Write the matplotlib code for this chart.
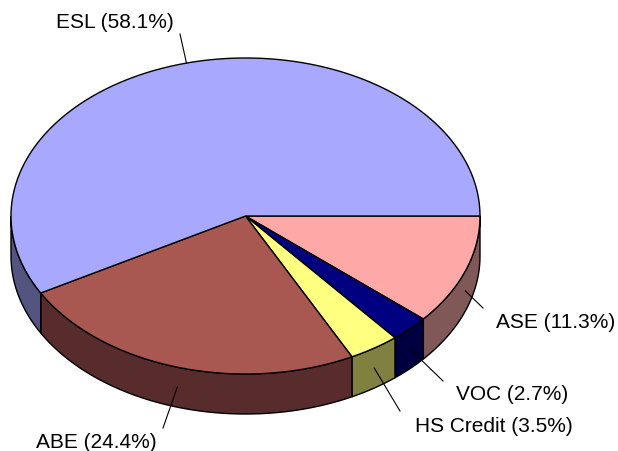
import numpy as np
import matplotlib
matplotlib.use('Agg')
import matplotlib.pyplot as plt

labels = ['ASE', 'VOC', 'HS Credit', 'ABE', 'ESL']
shares = [11.3, 2.7, 3.5, 24.4, 58.1]
top_colors = ['#FFA8A8', '#000080', '#FFFF80', '#A85850', '#A8A8FF']
side_colors = ['#805858', '#000040', '#808040', '#582C2C', '#545480']

# pie geometry, in picture pixels
cx, cy = 245.5, 216
rx, ry = 234.5, 158
depth = 40

# label text anchor and leader end
label_pos = [(496, 322), (456, 394), (415, 426), (36, 443), (56, 22)]
leader_out = [(483, 308), (443, 381), (400, 411), (163, 428), (180, 34)]

plt.rcParams['font.family'] = ['Liberation Sans', 'DejaVu Sans']

fig = plt.figure(figsize=(6.18, 4.51), dpi=100)
ax = fig.add_axes([0, 0, 1, 1])
ax.set_xlim(0, 618)
ax.set_ylim(451, 0)
ax.axis('off')


def arc(a, b):
    t = np.radians(np.linspace(a, b, max(int(abs(b - a)) * 2, 2) + 1))
    return cx + rx * np.cos(t), cy + ry * np.sin(t)


edges = np.concatenate([[0], np.cumsum(shares) / np.sum(shares) * 360])

# side walls, only the front half of the rim shows
for i in range(len(shares)):
    a, b = edges[i], min(edges[i + 1], 180)
    if a >= 180:
        continue
    x, y = arc(a, b)
    ax.fill(np.r_[x, x[::-1]], np.r_[y, y[::-1] + depth],
            fc=side_colors[i], ec='black', lw=1.0, zorder=2)

for i in range(len(shares)):
    x, y = arc(edges[i], edges[i + 1])
    ax.fill(np.r_[cx, x], np.r_[cy, y], fc=top_colors[i], ec='black', lw=1.0,
            joinstyle='round', zorder=3)

for i in range(len(shares)):
    mid = np.radians((edges[i] + edges[i + 1]) / 2)
    sx = cx + rx * np.cos(mid)
    sy = cy + ry * np.sin(mid)
    if 0 < np.degrees(mid) < 180:
        sy += depth / 2
    ax.plot([sx, leader_out[i][0]], [sy, leader_out[i][1]], color='black', lw=0.8, zorder=4)
    ax.text(label_pos[i][0], label_pos[i][1], '%s (%.1f%%)' % (labels[i], shares[i]),
            fontsize=15, ha='left', va='center', color='black', zorder=5)

fig.savefig('out.png', dpi=100)
